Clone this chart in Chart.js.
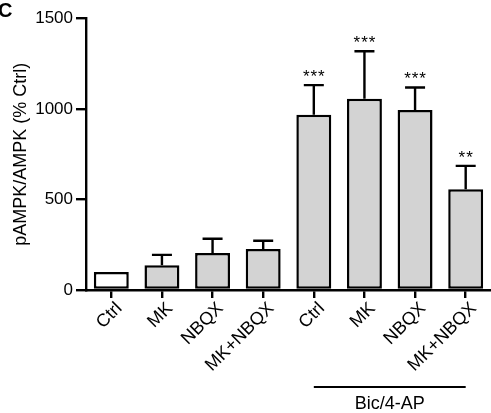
<!DOCTYPE html>
<html>
<head>
<meta charset="utf-8">
<script src="https://cdn.jsdelivr.net/npm/chart.js@4/dist/chart.umd.min.js"></script>
<style>
  html, body { margin: 0; padding: 0; background: #fff; }
  #wrap { width: 491px; height: 413px; }
</style>
</head>
<body>
<div id="wrap"><canvas id="c" width="491" height="413"></canvas></div>
<script>
const categories = ['Ctrl', 'MK', 'NBQX', 'MK+NBQX', 'Ctrl', 'MK', 'NBQX', 'MK+NBQX'];
const means = [100, 137, 205, 226, 968, 1057, 994, 557];
const sems = [0, 57, 78, 46, 164, 262, 125, 129];
const significance = ['', '', '', '', '***', '***', '***', '**'];
const fillColors = ['#ffffff', '#d3d3d3', '#d3d3d3', '#d3d3d3', '#d3d3d3', '#d3d3d3', '#d3d3d3', '#d3d3d3'];
const yTicks = [0, 500, 1000, 1500];
const groupLabel = 'Bic/4-AP';
const groupRange = [4, 7];
const panelLetter = 'C';
const yTitle = 'pAMPK/AMPK (% Ctrl)';

const FONT = "'Liberation Sans', Arial, sans-serif";

const extras = {
  id: 'extras',
  afterDatasetsDraw(chart) {
    const ctx = chart.ctx;
    const y = chart.scales.y;
    const meta = chart.getDatasetMeta(0);
    ctx.save();
    ctx.strokeStyle = '#000';
    ctx.fillStyle = '#000';
    ctx.lineWidth = 2.4;
    ctx.lineCap = 'butt';
    meta.data.forEach((bar, i) => {
      const cx = bar.x;
      if (sems[i] > 0) {
        const yb = y.getPixelForValue(means[i]);
        const yt = y.getPixelForValue(means[i] + sems[i]);
        ctx.beginPath();
        ctx.moveTo(cx, yb);
        ctx.lineTo(cx, yt);
        ctx.moveTo(cx - 10, yt);
        ctx.lineTo(cx + 10, yt);
        ctx.stroke();
      }
      const s = significance[i];
      if (s) {
        const yt = y.getPixelForValue(means[i] + sems[i]);
        ctx.font = '17px ' + FONT;
        ctx.textAlign = 'center';
        ctx.textBaseline = 'alphabetic';
        const n = s.length, step = 7.6;
        for (let k = 0; k < n; k++) {
          ctx.fillText('*', cx + (k - (n - 1) / 2) * step, yt - 3);
        }
      }
    });
    // group line and label
    const x = chart.scales.x;
    const x0 = x.getPixelForValue(groupRange[0]);
    const x1 = x.getPixelForValue(groupRange[1]);
    ctx.lineWidth = 2;
    ctx.beginPath();
    ctx.moveTo(x0, 387);
    ctx.lineTo(x1, 387);
    ctx.stroke();
    ctx.font = '18px ' + FONT;
    ctx.textAlign = 'center';
    ctx.textBaseline = 'alphabetic';
    ctx.fillText(groupLabel, (x0 + x1) / 2, 409);
    // panel letter
    ctx.font = 'bold 20px ' + FONT;
    ctx.textAlign = 'left';
    ctx.fillText(panelLetter, -2, 17);
    ctx.restore();
  }
};

new Chart(document.getElementById('c'), {
  type: 'bar',
  data: {
    labels: categories,
    datasets: [{
      data: means,
      backgroundColor: fillColors,
      borderColor: '#000',
      borderWidth: 2.5,
      borderSkipped: false,
      barPercentage: 0.69,
      categoryPercentage: 1.0
    }]
  },
  options: {
    responsive: false,
    animation: false,
    devicePixelRatio: 1,
    layout: { padding: { top: 18.5, left: 0, right: 0, bottom: 0 } },
    plugins: { legend: { display: false }, tooltip: { enabled: false } },
    scales: {
      x: {
        offset: true,
        afterFit(s) { s.height = 123; },
        grid: { offset: false, drawOnChartArea: false, drawTicks: true, tickLength: 8, color: '#000', lineWidth: 2.4 },
        border: { display: true, color: '#000', width: 2.4 },
        ticks: { color: '#000', font: { family: FONT, size: 18 }, minRotation: 45, maxRotation: 45, padding: 0, labelOffset: 8, autoSkip: false }
      },
      y: {
        min: 0, max: 1500,
        afterFit(s) { s.width = 86; },
        afterBuildTicks(s) { s.ticks = yTicks.map(v => ({ value: v })); },
        grid: { drawOnChartArea: false, drawTicks: true, tickLength: 10, color: '#000', lineWidth: 2.4 },
        border: { display: true, color: '#000', width: 2.4 },
        ticks: { color: '#000', font: { family: FONT, size: 17 }, padding: 3, callback: (v) => String(v) },
        title: { display: true, text: yTitle, color: '#000', font: { family: FONT, size: 18 }, padding: { top: 10, bottom: 0 } }
      }
    }
  },
  plugins: [extras]
});
</script>
</body>
</html>
